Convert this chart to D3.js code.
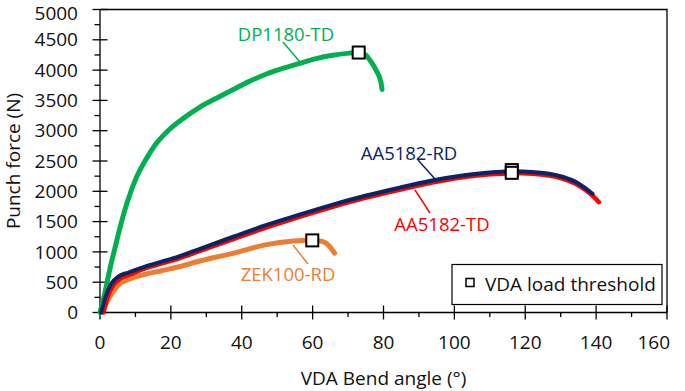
<!DOCTYPE html>
<html>
<head>
<meta charset="utf-8">
<script src="https://cdn.jsdelivr.net/npm/d3@7"></script>
<style>
  body { margin: 0; background: #fff; }
  svg { display: block; font-family: "Open Sans", sans-serif; }
</style>
</head>
<body>
<svg width="685" height="391"></svg>
<script>
// bend angle (deg) and punch force (N)
let dpAngle = [0, 1.4, 2.8, 4.2, 5.6, 7, 8.5, 10.3, 12.7, 15.5, 19.2, 23.9, 28.2, 33, 37.6, 42, 47, 52, 56.3, 61, 65.7, 70.4, 73, 75, 76.1, 77.9, 79.3, 79.6];
let dpForce = [0, 330, 720, 1060, 1390, 1690, 1960, 2230, 2500, 2760, 3000, 3220, 3390, 3540, 3680, 3810, 3935, 4035, 4110, 4190, 4245, 4280, 4290, 4250, 4170, 4000, 3790, 3680];

let aaRdAngle = [0.3, 1.9, 3.3, 5.2, 8, 12.7, 17.4, 22.1, 28.2, 37.6, 47, 56.3, 65.7, 75.1, 84.5, 93, 102.3, 110, 116.5, 122, 130.5, 135, 139];
let aaRdForce = [0, 320, 484, 593, 660, 758, 840, 923, 1050, 1250, 1445, 1615, 1780, 1930, 2060, 2170, 2260, 2310, 2330, 2320, 2240, 2130, 1960];

let aaTdAngle = [1, 2.4, 4, 6, 8.5, 12.7, 17.4, 22.1, 28.2, 37.6, 47, 56.3, 65.7, 75.1, 84.5, 93, 102.3, 110, 116.5, 122, 130.5, 135, 139, 140.8];
let aaTdForce = [0, 300, 470, 570, 630, 730, 810, 890, 1015, 1210, 1405, 1580, 1745, 1895, 2025, 2135, 2230, 2280, 2300, 2290, 2210, 2100, 1930, 1820];

let zekAngle = [0.5, 2, 3.7, 5.2, 8, 12.7, 17.4, 22, 28.2, 38, 47, 54.5, 57, 60, 62.9, 64.8, 66.2];
let zekForce = [0, 180, 346, 456, 545, 630, 690, 750, 850, 985, 1120, 1180, 1190, 1192, 1170, 1090, 980];

// VDA load threshold points
let thrAngle = [73, 116.2, 116.2, 59.9];
let thrForce = [4290, 2350, 2305, 1190];

let xTicks = [0, 20, 40, 60, 80, 100, 120, 140, 160];
let yTicks = [0, 500, 1000, 1500, 2000, 2500, 3000, 3500, 4000, 4500, 5000];

let svg = d3.select("svg");
let xScale = d3.scaleLinear().domain([0, 160]).range([100, 667]);
let yScale = d3.scaleLinear().domain([0, 5000]).range([312.5, 9.5]);

// frame (top + right)
svg.append("path")
  .attr("d", `M${xScale(0)},${yScale(5000)}H${xScale(160)}V${yScale(0)}`)
  .attr("fill", "none").attr("stroke", "#000").attr("stroke-width", 1.3);

// y axis
let yAxis = svg.append("g").attr("transform", `translate(${xScale(0)},0)`);
yAxis.append("line").attr("y1", yScale(0)).attr("y2", yScale(5000))
  .attr("stroke", "#000").attr("stroke-width", 1.3);
yAxis.selectAll("line.maj").data(yTicks).join("line").attr("class", "maj")
  .attr("x1", -7.5).attr("x2", 7.5)
  .attr("y1", d => yScale(d)).attr("y2", d => yScale(d))
  .attr("stroke", "#000").attr("stroke-width", 1.3);
yAxis.selectAll("line.min").data(d3.range(250, 5000, 500)).join("line").attr("class", "min")
  .attr("x1", -5.5).attr("x2", 0)
  .attr("y1", d => yScale(d)).attr("y2", d => yScale(d))
  .attr("stroke", "#000").attr("stroke-width", 1.3);
yAxis.selectAll("text").data(yTicks).join("text")
  .attr("x", -22).attr("y", d => Math.max(yScale(d), 13)).attr("dy", "0.35em")
  .attr("text-anchor", "end").attr("font-size", 19).attr("fill", "#111")
  .text(d => d);

// x axis
let xAxis = svg.append("g").attr("transform", `translate(0,${yScale(0)})`);
xAxis.append("line").attr("x1", xScale(0)).attr("x2", xScale(160))
  .attr("stroke", "#000").attr("stroke-width", 1.3);
xAxis.selectAll("line.maj").data(xTicks).join("line").attr("class", "maj")
  .attr("y1", -7).attr("y2", 7)
  .attr("x1", d => xScale(d)).attr("x2", d => xScale(d))
  .attr("stroke", "#000").attr("stroke-width", 1.3);
xAxis.selectAll("line.min").data(d3.range(10, 160, 20)).join("line").attr("class", "min")
  .attr("y1", 0).attr("y2", 4.5)
  .attr("x1", d => xScale(d)).attr("x2", d => xScale(d))
  .attr("stroke", "#000").attr("stroke-width", 1.3);
xAxis.selectAll("text").data(xTicks).join("text")
  .attr("x", d => d === 160 ? xScale(d) + 3 : xScale(d)).attr("y", 36)
  .attr("text-anchor", d => d === 160 ? "end" : "middle")
  .attr("font-size", 19).attr("fill", "#111")
  .text(d => d);

svg.append("text")
  .attr("x", (xScale(0) + xScale(160)) / 2).attr("y", 385)
  .attr("text-anchor", "middle").attr("font-size", 19).attr("fill", "#111")
  .text("VDA Bend angle (°)");
svg.append("text")
  .attr("transform", `translate(20,${(yScale(0) + yScale(5000)) / 2}) rotate(-90)`)
  .attr("text-anchor", "middle").attr("font-size", 19).attr("fill", "#111")
  .text("Punch force (N)");

// curves
let line = d3.line()
  .x(d => xScale(d[0]))
  .y(d => yScale(d[1]))
  .curve(d3.curveMonotoneX);

let series = [
  {angle: zekAngle, force: zekForce, color: "#ED7D31", w: 5},
  {angle: dpAngle, force: dpForce, color: "#00B050", w: 5},
  {angle: aaTdAngle, force: aaTdForce, color: "#FF0000", w: 4.5},
  {angle: aaRdAngle, force: aaRdForce, color: "#0B2466", w: 4}
];

svg.selectAll("path.curve").data(series).join("path")
  .attr("class", "curve")
  .attr("fill", "none")
  .attr("stroke", d => d.color)
  .attr("stroke-width", d => d.w)
  .attr("stroke-linecap", "round")
  .attr("stroke-linejoin", "round")
  .attr("d", d => line(d3.zip(d.angle, d.force)));

// labels with leader lines
let labels = [
  {text: "DP1180-TD", color: "#00B050", x: 286, y: 41, l: [283, 42, 300, 62]},
  {text: "AA5182-RD", color: "#0B2466", x: 409, y: 160, l: [418, 160, 435, 179]},
  {text: "AA5182-TD", color: "#FF0000", x: 442, y: 231, l: [430, 213, 415, 190]},
  {text: "ZEK100-RD", color: "#ED7D31", x: 288, y: 281, l: [308, 264, 293, 245]}
];
svg.selectAll("line.lead").data(labels).join("line").attr("class", "lead")
  .attr("x1", d => d.l[0]).attr("y1", d => d.l[1])
  .attr("x2", d => d.l[2]).attr("y2", d => d.l[3])
  .attr("stroke", d => d.color).attr("stroke-width", 1.5);
svg.selectAll("text.lab").data(labels).join("text").attr("class", "lab")
  .attr("x", d => d.x).attr("y", d => d.y)
  .attr("text-anchor", "middle").attr("font-size", 18.5)
  .attr("fill", d => d.color)
  .text(d => d.text);

// threshold markers
svg.selectAll("rect.thr").data(d3.zip(thrAngle, thrForce)).join("rect").attr("class", "thr")
  .attr("x", d => xScale(d[0]) - 6).attr("y", d => yScale(d[1]) - 6)
  .attr("width", 12).attr("height", 12)
  .attr("fill", "#fff").attr("stroke", "#000").attr("stroke-width", 2);

// legend
let legend = svg.append("g");
legend.append("rect")
  .attr("x", 452).attr("y", 264.5).attr("width", 210).attr("height", 40)
  .attr("fill", "#fff").attr("stroke", "#000").attr("stroke-width", 1.2);
legend.append("rect")
  .attr("x", 466).attr("y", 278.5).attr("width", 8).attr("height", 8)
  .attr("fill", "#fff").attr("stroke", "#000").attr("stroke-width", 1.5);
legend.append("text")
  .attr("x", 485).attr("y", 291).attr("font-size", 19).attr("fill", "#111")
  .text("VDA load threshold");
</script>
</body>
</html>
